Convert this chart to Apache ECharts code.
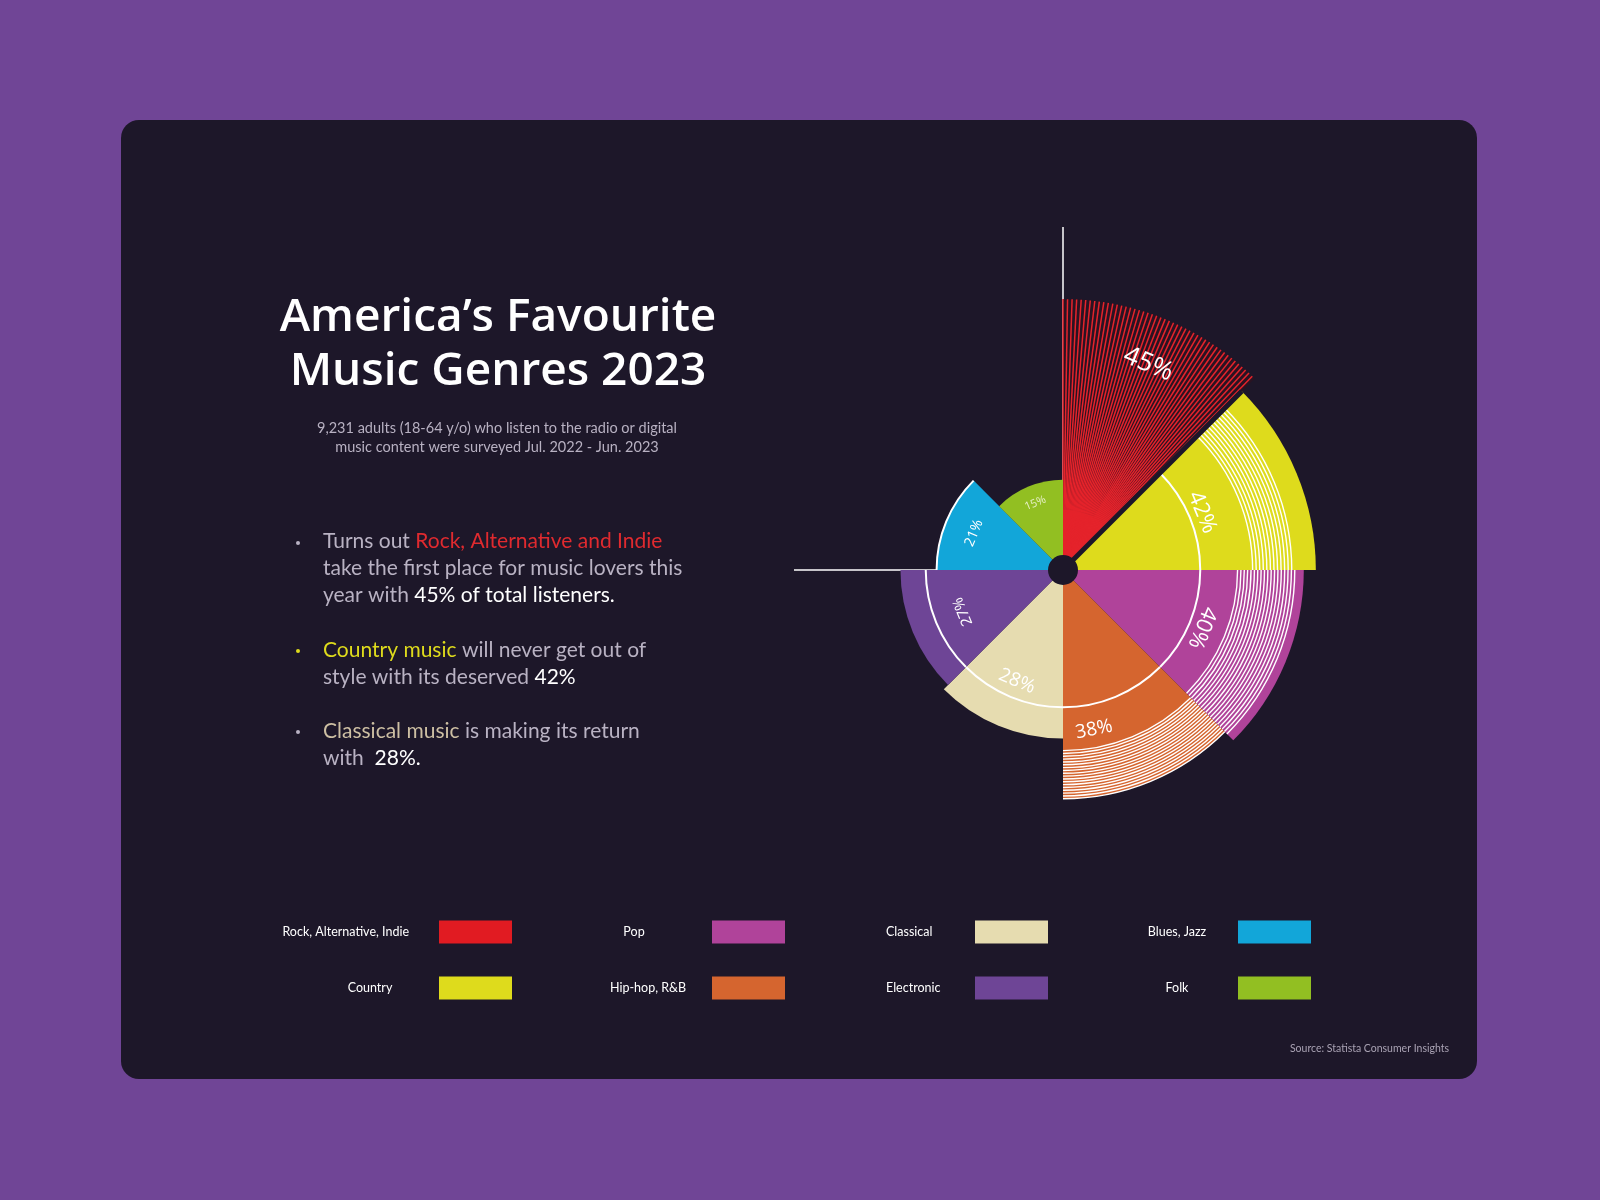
<!DOCTYPE html>
<html><head><meta charset="utf-8">
<script src="https://cdn.jsdelivr.net/npm/echarts@6/dist/echarts.min.js"></script>
<style>html,body{margin:0;padding:0;background:#704596;}#c{width:1600px;height:1200px;}</style>
</head><body><div id="c"></div>
<script>
const genres = ['Rock, Alternative, Indie','Country','Pop','Hip-hop, R&B','Classical','Electronic','Blues, Jazz','Folk'];
const shares = [45, 42, 40, 38, 28, 27, 21, 15];
const colors = ['#e11b22','#dedb1c','#b0439a','#d5652f','#e6dcb0','#6e4596','#12a6d9','#92bf22'];
const labels = ['45%','42%','40%','38%','28%','27%','21%','15%'];
// style config (label radius in value units, font size, flipped, stripes)
const labelR = [37, 25, 25, 27, 20, 18, 16, 12];
const labelSize = [26, 22, 22, 19, 19, 15, 14, 11];
const flip = [false,false,false,true,true,false,false,false];
const stripes = {1:[31.5,38,12], 2:[29,38.5,18], 3:[30,38,18]};
const ringValue = 22.8;
const CX = 1063, CY = 570, R = 301, MAXV = 50;

const chart = echarts.init(document.getElementById('c'), null, {renderer:'canvas'});

function renderItem(params, api){
  const i = api.value(1);
  const v = api.value(0);
  const cs = params.coordSys;
  const cx = cs.cx, cy = cs.cy;
  const rad = val => { const p = api.coord([val, i]); return Math.hypot(p[0]-cx, p[1]-cy); };
  const n = genres.length;
  const a0 = -Math.PI/2 + i*2*Math.PI/n, a1 = a0 + 2*Math.PI/n;
  const r = rad(v);
  const ch = [];
  if (i === 0) {
    ch.push({type:'sector', shape:{cx,cy,r0:0,r,startAngle:a0,endAngle:a1}, style:{fill:'#2a1322'}});
    ch.push({type:'sector', shape:{cx,cy,r0:0,r:rad(10),startAngle:a0,endAngle:a1}, style:{fill:colors[0]}});
    const cnt = 46;
    for (let k=0;k<=cnt;k++){
      const a = a0 + (a1-a0)*k/cnt*0.985;
      ch.push({type:'line', shape:{x1:cx,y1:cy,x2:cx+r*Math.cos(a),y2:cy+r*Math.sin(a)}, style:{stroke:'#e5232b',lineWidth:1.5}});
    }
  } else {
    ch.push({type:'sector', shape:{cx,cy,r0:0,r,startAngle:a0,endAngle:a1}, style:{fill:colors[i]}});
    if (stripes[i]) {
      const [s0,s1,c] = stripes[i];
      const p0 = rad(s0), p1 = rad(s1);
      for (let k=0;k<c;k++){
        const rr = p0 + (p1-p0)*k/(c-1);
        ch.push({type:'arc', shape:{cx,cy,r:rr,startAngle:a0,endAngle:a1}, style:{stroke:'#ffffff',lineWidth:1.4,fill:null}});
      }
    }
    if (i < n-1) {
      const rr = rad(Math.min(ringValue, v));
      ch.push({type:'arc', shape:{cx,cy,r:rr,startAngle:a0,endAngle:a1}, style:{stroke:'#ffffff',lineWidth:2,fill:null}});
    }
  }
  if (i === 1) {
    ch.push({type:'line', shape:{x1:cx,y1:cy,x2:cx+r*Math.cos(a0),y2:cy+r*Math.sin(a0)}, style:{stroke:'#1d1729',lineWidth:5}});
  }
  const am = (a0+a1)/2 + (i===3 ? 0.2 : 0);
  const lr = rad(labelR[i]);
  const theta = am + Math.PI/2;
  ch.push({type:'text', x:cx+lr*Math.cos(am), y:cy+lr*Math.sin(am),
    rotation: flip[i] ? -theta+Math.PI : -theta,
    style:{text:labels[i], fill: i===7?'#e8f0c8':'#ffffff', fontSize:labelSize[i], fontFamily:'Open Sans', align:'center', verticalAlign:'middle'}});
  return {type:'group', children:ch};
}

const F = 'Open Sans';
const g = [];
g.push({type:'rect', shape:{x:121,y:120,width:1356,height:959,r:18}, style:{fill:'#1d1729'}, z:-10});
g.push({type:'line', shape:{x1:CX,y1:CY,x2:CX,y2:227}, style:{stroke:'#ffffff',lineWidth:1.5}, z:-5});
g.push({type:'line', shape:{x1:CX,y1:CY,x2:794,y2:CY}, style:{stroke:'#ffffff',lineWidth:1.5}, z:-5});
g.push({type:'circle', shape:{cx:CX,cy:CY,r:15}, style:{fill:'#1d1729'}, z:100});
g.push({type:'text', x:498, y:318, style:{text:'America’s Favourite', fill:'#fff', font:'600 46px "Open Sans"', align:'center', verticalAlign:'middle'}});
g.push({type:'text', x:498, y:372, style:{text:'Music Genres 2023', fill:'#fff', font:'600 46px "Open Sans"', align:'center', verticalAlign:'middle'}});
g.push({type:'text', x:497, y:428, style:{text:'9,231 adults (18-64 y/o) who listen to the radio or digital', fill:'#b8b1c2', font:'14.5px Lato', align:'center', verticalAlign:'middle'}});
g.push({type:'text', x:497, y:447, style:{text:'music content were surveyed Jul. 2022 - Jun. 2023', fill:'#b8b1c2', font:'14.5px Lato', align:'center', verticalAlign:'middle'}});
const gray = '#b9b2c3';
const rich = {g:{fill:gray,fontSize:21,fontFamily:'Lato'}, w:{fill:'#ffffff',fontSize:21,fontFamily:'Lato'}, r:{fill:'#e02a2f',fontSize:21,fontFamily:'Lato'}, y:{fill:'#dedb1c',fontSize:21,fontFamily:'Lato'}, c:{fill:'#cdbfa3',fontSize:21,fontFamily:'Lato'}};
function line(y, t){ g.push({type:'text', x:323, y:y, style:{text:t, rich:rich, verticalAlign:'middle', align:'left'}}); }
function dot(y, c){ g.push({type:'circle', shape:{cx:298,cy:y,r:2}, style:{fill:c}}); }
dot(543, gray); line(541,'{g|Turns out }{r|Rock, Alternative and Indie}'); line(568,'{g|take the first place for music lovers this}'); line(595,'{g|year with }{w|45% of total listeners.}');
dot(651, '#dedb1c'); line(650,'{y|Country music}{g| will never get out of}'); line(677,'{g|style with its deserved }{w|42%}');
dot(732, gray); line(731,'{c|Classical music}{g| is making its return}'); line(758,'{g|with  }{w|28%.}');
// legend
const legX = [439, 712, 975, 1238];
const legLabel = [[409,'right'],[634,'center'],[886,'left'],[1177,'center'],[370,'center'],[648,'center'],[886,'left'],[1177,'center']];
const legOrder = [0,2,4,6,1,3,5,7];
legOrder.forEach((gi, k) => {
  const col = k % 4, row = Math.floor(k/4);
  const y = row ? 988 : 932;
  g.push({type:'rect', shape:{x:legX[col], y:y-11.5, width:73, height:23}, style:{fill:colors[gi]}});
  g.push({type:'text', x:legLabel[k][0], y:y, style:{text:genres[gi], fill:'#ffffff', font:'12.5px Lato', align:legLabel[k][1], verticalAlign:'middle'}});
});
g.push({type:'text', x:1449, y:1049, style:{text:'Source: Statista Consumer Insights', fill:'#a9a2b3', font:'10.5px Lato', align:'right', verticalAlign:'middle'}});

chart.setOption({
  backgroundColor:'#704596',
  animation:false,
  polar:{center:[CX,CY], radius:R},
  angleAxis:{type:'category', data:genres, startAngle:90, clockwise:true, show:false, boundaryGap:true},
  radiusAxis:{type:'value', min:0, max:MAXV, show:false},
  graphic:g,
  series:[{type:'custom', coordinateSystem:'polar', renderItem, data: shares.map((v,i)=>[v,i]), z:5}]
});
</script></body></html>
